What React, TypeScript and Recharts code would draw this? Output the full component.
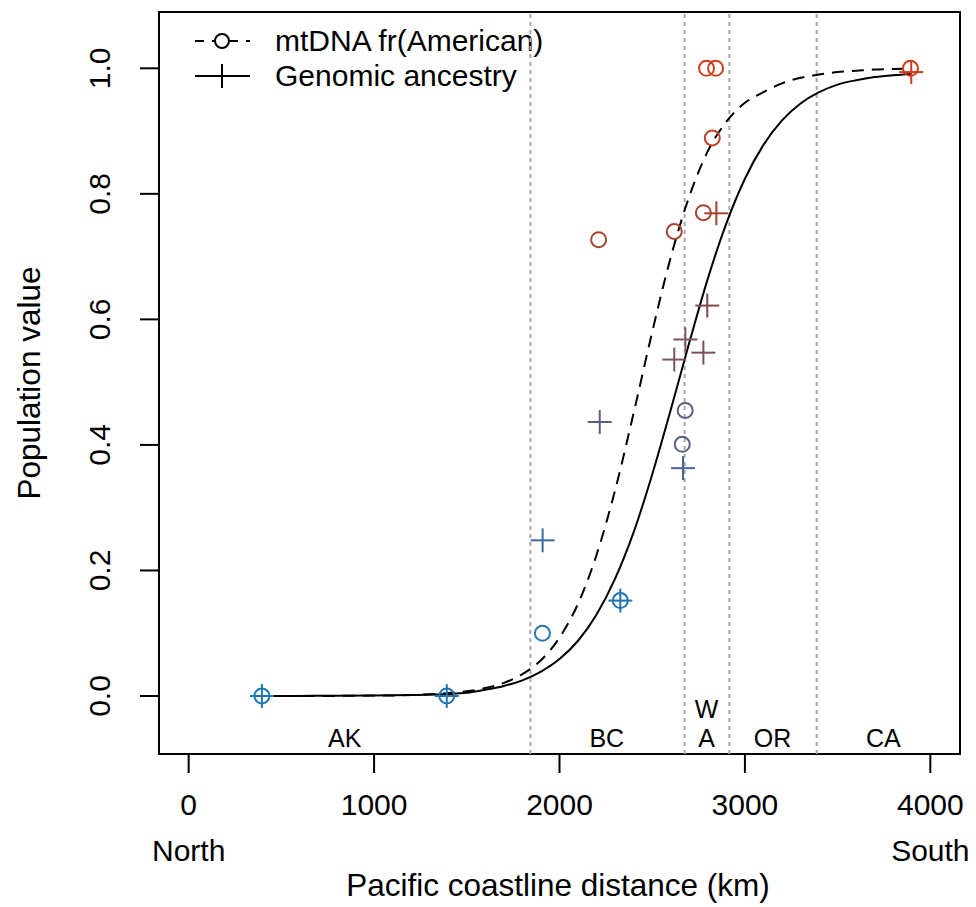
import React from 'react';
import {
  ComposedChart,
  Line,
  Scatter,
  XAxis,
  YAxis,
  ReferenceLine,
  ReferenceArea,
  Customized,
} from 'recharts';

// ---- Data ----
const curveX = [400, 600, 800, 1000, 1200, 1400, 1500, 1600, 1700, 1800, 1900, 2000, 2100, 2200, 2300, 2400, 2500, 2600, 2700, 2800, 2900, 3000, 3100, 3200, 3300, 3400, 3500, 3600, 3700, 3800, 3900];
const mtdnaCurveY = [0.0, 0.0001, 0.0002, 0.0006, 0.0016, 0.0045, 0.0075, 0.0126, 0.021, 0.035, 0.057, 0.093, 0.147, 0.225, 0.328, 0.451, 0.58, 0.699, 0.796, 0.868, 0.915, 0.945, 0.962, 0.976, 0.985, 0.99, 0.994, 0.996, 0.998, 0.999, 0.9995];
const genomicCurveY = [0.0001, 0.0002, 0.0004, 0.0009, 0.0015, 0.003, 0.005, 0.01, 0.016, 0.025, 0.039, 0.059, 0.088, 0.13, 0.187, 0.261, 0.353, 0.456, 0.563, 0.665, 0.753, 0.824, 0.878, 0.917, 0.944, 0.962, 0.974, 0.981, 0.986, 0.989, 0.991];

const mtdnaX = [395, 1392, 1908, 2328, 2211, 2619, 2678, 2662, 2776, 2824, 2793, 2842, 3893];
const mtdnaY = [0.0, 0.0, 0.1, 0.152, 0.727, 0.74, 0.455, 0.401, 0.77, 0.889, 1.0, 1.0, 1.0];
const mtdnaColor = ['#1f78b4', '#1f78b4', '#2a78b4', '#2074b0', '#a84432', '#a84432', '#5c5c7a', '#566080', '#a8402e', '#c04228', '#cc3f1e', '#cc3f1e', '#d03c18'];

const genomicX = [395, 1392, 1909, 2328, 2217, 2666, 2619, 2679, 2776, 2797, 2846, 3897];
const genomicY = [0.0, 0.0, 0.248, 0.152, 0.4365, 0.363, 0.536, 0.568, 0.547, 0.622, 0.769, 0.994];
const genomicColor = ['#1f78b4', '#1f78b4', '#3a6a9c', '#2074b0', '#5a5e7e', '#4a6694', '#7a5560', '#7a5560', '#7a5058', '#864848', '#a8402e', '#d03c18'];

const regionBounds = [1843, 2675, 2916, 3387];
const regionNames = ['AK', 'BC', 'W\nA', 'OR', 'CA'];
const regionX = [842, 2255, 2793, 3149, 3747];
const regionY = [-0.0674, -0.0674, -0.0674, -0.0674, -0.0674];

const xTicks = [0, 1000, 2000, 3000, 4000];
const xTickSub: Record<number, string> = { 0: 'North', 4000: 'South' };
const yTicks = [0, 0.2, 0.4, 0.6, 0.8, 1.0];

const legendLabels = ['mtDNA fr(American)', 'Genomic ancestry'];

// ---- Build tables ----
const mtdnaCurve = curveX.map((x, i) => ({ x, y: mtdnaCurveY[i] }));
const genomicCurve = curveX.map((x, i) => ({ x, y: genomicCurveY[i] }));
const mtdnaPts = mtdnaX.map((x, i) => ({ x, y: mtdnaY[i], color: mtdnaColor[i] }));
const genomicPts = genomicX.map((x, i) => ({ x, y: genomicY[i], color: genomicColor[i] }));
const regionPts = regionNames.map((name, i) => ({ x: regionX[i], y: regionY[i], name }));

const FONT = '"Liberation Sans", Arial, Helvetica, sans-serif';
const X_DOMAIN: [number, number] = [-160, 4160];
const Y_DOMAIN: [number, number] = [-0.0924, 1.0897];

const XTick = (props: any) => {
  const { x, payload } = props;
  const sub = xTickSub[payload.value];
  return (
    <g>
      <text x={x} y={815} textAnchor="middle" fontSize={30} fontFamily={FONT} fill="#000">
        {payload.value}
      </text>
      {sub && (
        <text x={x} y={861} textAnchor="middle" fontSize={30} fontFamily={FONT} fill="#000">
          {sub}
        </text>
      )}
    </g>
  );
};

const YTick = (props: any) => {
  const { y, payload } = props;
  return (
    <text
      transform={`translate(110, ${y}) rotate(-90)`}
      textAnchor="middle"
      fontSize={30}
      fontFamily={FONT}
      fill="#000"
    >
      {Number(payload.value).toFixed(1)}
    </text>
  );
};

const CircleShape = (props: any) => {
  const { cx, cy, payload } = props;
  return <circle cx={cx} cy={cy} r={7.5} fill="none" stroke={payload.color} strokeWidth={2} />;
};

const PlusShape = (props: any) => {
  const { cx, cy, payload } = props;
  const s = 12;
  return (
    <g stroke={payload.color} strokeWidth={2}>
      <line x1={cx - s} y1={cy} x2={cx + s} y2={cy} />
      <line x1={cx} y1={cy - s} x2={cx} y2={cy + s} />
    </g>
  );
};

const RegionLabel = (props: any) => {
  const { cx, cy, payload } = props;
  const lines = String(payload.name).split('\n');
  const lh = 29;
  return (
    <g>
      {lines.map((l, i) => (
        <text
          key={i}
          x={cx}
          y={cy + 9 - (lines.length - 1 - i) * lh}
          textAnchor="middle"
          fontSize={25}
          fontFamily={FONT}
          fill="#000"
        >
          {l}
        </text>
      ))}
    </g>
  );
};

const Extras = () => (
  <g fontFamily={FONT}>
    {/* legend */}
    <line x1={195} y1={41} x2={250} y2={41} stroke="#000" strokeWidth={2} strokeDasharray="9 8" />
    <circle cx={222} cy={41} r={7} fill="#fff" stroke="#000" strokeWidth={2} />
    <text x={275} y={51} fontSize={30} fill="#000">{legendLabels[0]}</text>
    <line x1={195} y1={76} x2={250} y2={76} stroke="#000" strokeWidth={2} />
    <line x1={222} y1={64} x2={222} y2={88} stroke="#000" strokeWidth={2} />
    <text x={275} y={86} fontSize={30} fill="#000">{legendLabels[1]}</text>
    {/* axis titles */}
    <text x={558} y={896} textAnchor="middle" fontSize={31.5} fill="#000">
      Pacific coastline distance (km)
    </text>
    <text transform="translate(40, 383) rotate(-90)" textAnchor="middle" fontSize={31.5} fill="#000">
      Population value
    </text>
  </g>
);

export default function App() {
  return (
    <div style={{ position: 'absolute', left: 0, top: 0, background: '#fff' }}>
      <ComposedChart width={976} height={907} margin={{ top: 12, right: 16, bottom: 0, left: 0 }}>
        <XAxis
          type="number"
          dataKey="x"
          domain={X_DOMAIN}
          ticks={xTicks}
          interval={0}
          allowDataOverflow
          height={153}
          axisLine={false}
          tickSize={19}
          tickLine={{ stroke: '#000', strokeWidth: 2 }}
          tick={<XTick />}
        />
        <YAxis
          type="number"
          dataKey="y"
          domain={Y_DOMAIN}
          ticks={yTicks}
          interval={0}
          allowDataOverflow
          width={159}
          axisLine={false}
          tickSize={19}
          tickLine={{ stroke: '#000', strokeWidth: 2 }}
          tick={<YTick />}
        />
        {regionBounds.map((b) => (
          <ReferenceLine key={b} x={b} stroke="#a8a8a8" strokeWidth={2} strokeDasharray="4 4" />
        ))}
        <Line
          data={mtdnaCurve}
          dataKey="y"
          type="monotone"
          stroke="#000"
          strokeWidth={2}
          strokeDasharray="12 8"
          dot={false}
          activeDot={false}
          isAnimationActive={false}
        />
        <Line
          data={genomicCurve}
          dataKey="y"
          type="monotone"
          stroke="#000"
          strokeWidth={2}
          dot={false}
          activeDot={false}
          isAnimationActive={false}
        />
        <Scatter data={mtdnaPts} dataKey="y" shape={<CircleShape />} isAnimationActive={false} />
        <Scatter data={genomicPts} dataKey="y" shape={<PlusShape />} isAnimationActive={false} />
        <Scatter data={regionPts} dataKey="y" shape={<RegionLabel />} isAnimationActive={false} />
        <ReferenceArea
          x1={X_DOMAIN[0]}
          x2={X_DOMAIN[1]}
          y1={Y_DOMAIN[0]}
          y2={Y_DOMAIN[1]}
          fill="none"
          stroke="#000"
          strokeWidth={2}
          ifOverflow="visible"
        />
        <Customized component={Extras} />
      </ComposedChart>
    </div>
  );
}
